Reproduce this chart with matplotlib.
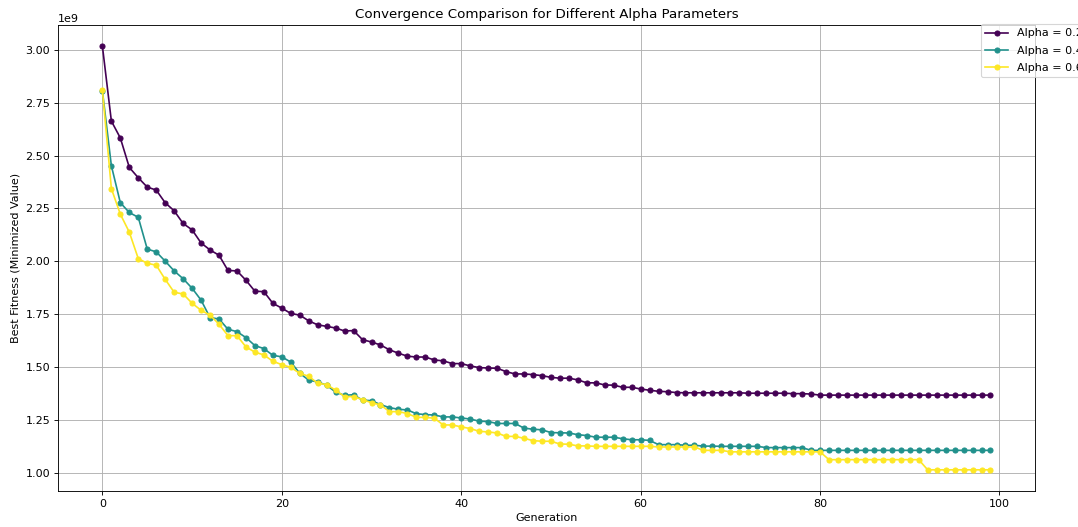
import numpy as np
import matplotlib
matplotlib.use("Agg")
import matplotlib.pyplot as plt

# best fitness per generation (in units of 1e9)
generations = list(range(100))

alpha_02 = [3.017, 2.663, 2.583, 2.444, 2.395, 2.351, 2.337, 2.277, 2.239, 2.179,
            2.149, 2.087, 2.054, 2.029, 1.957, 1.955, 1.911, 1.859, 1.857, 1.802,
            1.779, 1.754, 1.746, 1.719, 1.700, 1.693, 1.685, 1.671, 1.673, 1.630,
            1.619, 1.605, 1.582, 1.566, 1.552, 1.548, 1.548, 1.534, 1.530, 1.517,
            1.517, 1.506, 1.498, 1.496, 1.495, 1.479, 1.468, 1.468, 1.465, 1.460,
            1.452, 1.448, 1.448, 1.440, 1.426, 1.426, 1.416, 1.415, 1.405, 1.405,
            1.397, 1.391, 1.386, 1.384, 1.380, 1.379, 1.379, 1.379, 1.379, 1.379,
            1.379, 1.379, 1.377, 1.377, 1.377, 1.377, 1.377, 1.375, 1.375, 1.373,
            1.368, 1.368, 1.368, 1.368, 1.368, 1.368, 1.368, 1.368, 1.368, 1.368,
            1.368, 1.368, 1.368, 1.368, 1.368, 1.368, 1.368, 1.368, 1.368, 1.368]

alpha_04 = [2.805, 2.452, 2.277, 2.231, 2.208, 2.058, 2.045, 2.001, 1.955, 1.918,
            1.873, 1.817, 1.734, 1.728, 1.679, 1.668, 1.640, 1.602, 1.588, 1.556,
            1.549, 1.524, 1.471, 1.439, 1.430, 1.415, 1.382, 1.367, 1.370, 1.344,
            1.342, 1.323, 1.309, 1.301, 1.298, 1.280, 1.276, 1.274, 1.265, 1.265,
            1.260, 1.255, 1.245, 1.243, 1.234, 1.234, 1.234, 1.212, 1.207, 1.204,
            1.191, 1.190, 1.189, 1.181, 1.177, 1.169, 1.169, 1.169, 1.162, 1.157,
            1.157, 1.154, 1.134, 1.134, 1.134, 1.131, 1.131, 1.127, 1.127, 1.126,
            1.126, 1.126, 1.126, 1.126, 1.120, 1.120, 1.120, 1.120, 1.120, 1.107,
            1.107, 1.107, 1.107, 1.107, 1.107, 1.107, 1.107, 1.107, 1.107, 1.107,
            1.107, 1.107, 1.107, 1.107, 1.107, 1.107, 1.107, 1.107, 1.107, 1.107]

alpha_06 = [2.809, 2.344, 2.223, 2.138, 2.013, 1.991, 1.982, 1.915, 1.854, 1.846,
            1.802, 1.769, 1.746, 1.703, 1.649, 1.649, 1.596, 1.571, 1.558, 1.528,
            1.512, 1.499, 1.471, 1.457, 1.424, 1.418, 1.391, 1.361, 1.361, 1.347,
            1.332, 1.322, 1.290, 1.290, 1.281, 1.263, 1.263, 1.259, 1.227, 1.227,
            1.218, 1.210, 1.197, 1.194, 1.189, 1.173, 1.173, 1.164, 1.153, 1.150,
            1.150, 1.137, 1.136, 1.128, 1.128, 1.126, 1.126, 1.126, 1.126, 1.126,
            1.126, 1.126, 1.123, 1.123, 1.123, 1.123, 1.123, 1.107, 1.107, 1.107,
            1.100, 1.100, 1.100, 1.100, 1.100, 1.100, 1.100, 1.100, 1.100, 1.100,
            1.100, 1.063, 1.063, 1.063, 1.063, 1.063, 1.063, 1.063, 1.063, 1.063,
            1.063, 1.063, 1.015, 1.015, 1.015, 1.015, 1.015, 1.015, 1.015, 1.015]

series = {'Alpha = 0.2': alpha_02, 'Alpha = 0.4': alpha_04, 'Alpha = 0.6': alpha_06}
colors = plt.cm.viridis(np.linspace(0, 1, len(series)))

# the reference looks like a bigger figure scaled down, so draw at dpi 80
fig = plt.figure(figsize=(1078 / 80, 527 / 80), dpi=80)
ax = fig.add_axes([0.0538, 0.0683, 0.9062, 0.8843])

for (label, vals), c in zip(series.items(), colors):
    ax.plot(generations, np.array(vals) * 1e9, marker='o', markersize=4.5,
            color=c, label=label)

ax.set_title('Convergence Comparison for Different Alpha Parameters')
ax.set_xlabel('Generation')
ax.set_ylabel('Best Fitness (Minimized Value)')
ax.grid(True)

# legend sits past the right edge of the axes and is cut off by the figure, as in the reference
ax.legend(loc='upper left', bbox_to_anchor=(981 / 1078, 1 - 24 / 527),
          bbox_transform=fig.transFigure, borderaxespad=0, labelspacing=0.65)

fig.savefig('out.png', dpi=80)
